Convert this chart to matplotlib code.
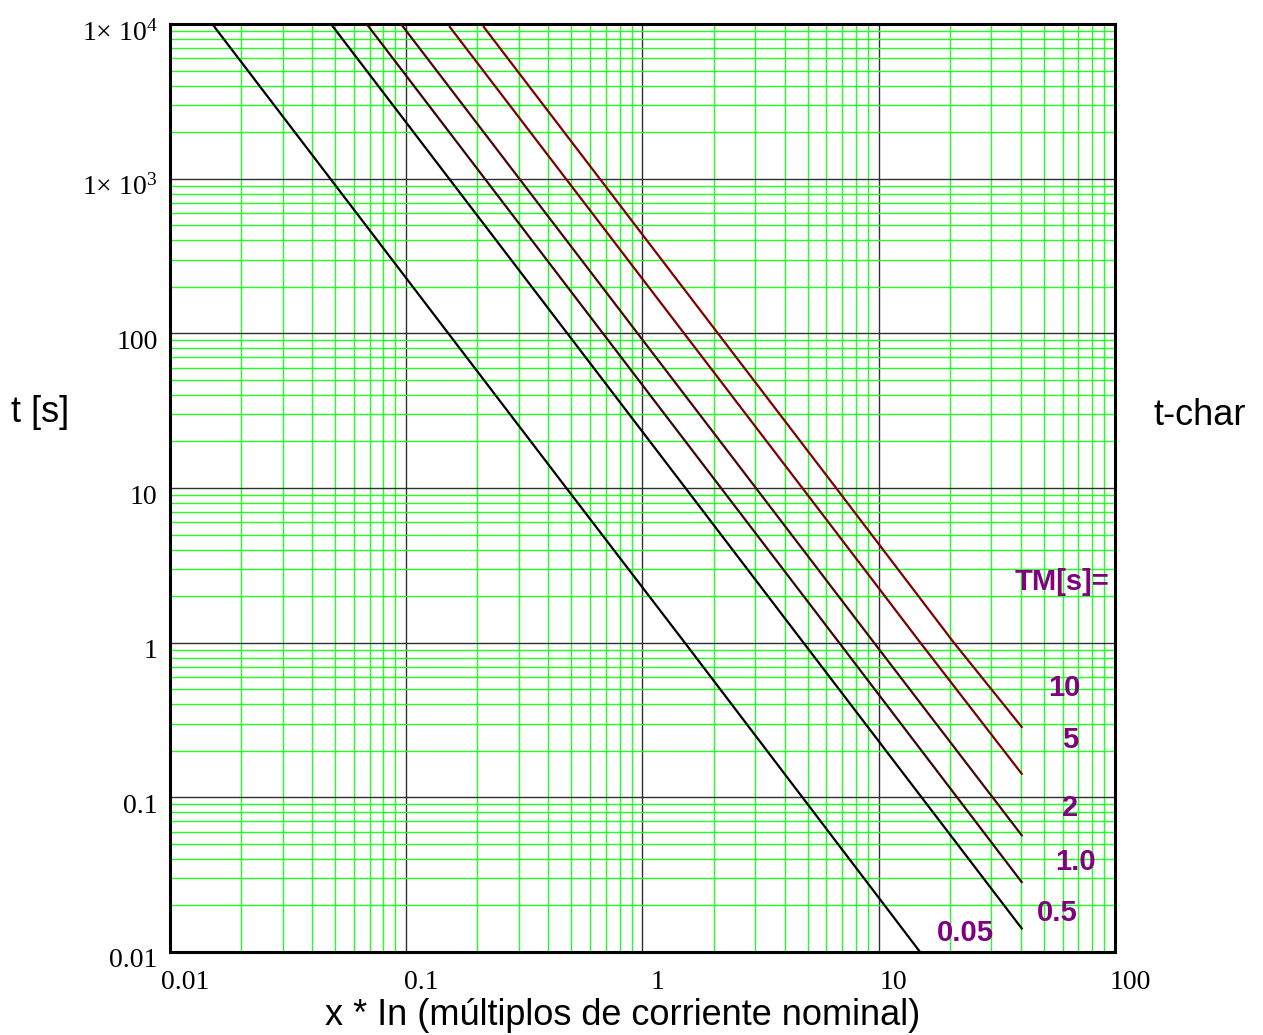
import matplotlib
matplotlib.use("Agg")
import matplotlib.pyplot as plt
import matplotlib.transforms as mtransforms
from matplotlib.ticker import LogLocator, FixedLocator, FixedFormatter, NullFormatter

plt.rcParams["font.family"] = "Liberation Sans"
plt.rcParams["mathtext.fontset"] = "custom"
plt.rcParams["mathtext.rm"] = "Liberation Serif"

# Curves (x = multiples of nominal current, t in s)
tm_labels = ["0.05", "0.5", "1.0", "2", "5", "10"]
x_tm005 = [0.0151, 0.476, 1.51, 14.96]
t_tm005 = [10000, 10.0, 1.0, 0.01]
x_tm05 = [0.048, 1.52, 4.8, 40.3]
t_tm05 = [10000, 10.0, 1.0, 0.0142]
x_tm1 = [0.068, 2.15, 6.8, 40.3]
t_tm1 = [10000, 10.0, 1.0, 0.0283]
x_tm2 = [0.095, 3.02, 9.55, 40.3]
t_tm2 = [10000, 10.0, 1.0, 0.0568]
x_tm5 = [0.153, 4.75, 15.0, 40.3]
t_tm5 = [9560, 10.0, 1.0, 0.142]
x_tm10 = [0.213, 6.6, 20.8, 40.3]
t_tm10 = [9560, 10.0, 1.0, 0.285]

curve_colors = ["#000000", "#000000", "#3a0505", "#4a0505", "#7d0000", "#800000"]

x_ticks = [0.01, 0.1, 1, 10, 100]
x_ticklabels = ["0.01", "0.1", "1", "10", "100"]
y_ticks = [0.01, 0.1, 1, 10, 100, 1000, 10000]
y_ticklabels = ["0.01", "0.1", "1", "10", "100",
                "1\u00d7 $\\mathregular{10^{3}}$", "1\u00d7 $\\mathregular{10^{4}}$"]

fig = plt.figure(figsize=(12.63, 10.35), dpi=100)
ax = fig.add_axes([0.1346, 0.0802, 0.7482, 0.8966])
ax.set_xscale("log")
ax.set_yscale("log")
ax.set_xlim(0.01, 100)
ax.set_ylim(0.01, 10000)

curves = [(x_tm005, t_tm005), (x_tm05, t_tm05), (x_tm1, t_tm1),
          (x_tm2, t_tm2), (x_tm5, t_tm5), (x_tm10, t_tm10)]
for (xs, ts), c in zip(curves, curve_colors):
    ax.plot(xs, ts, color=c, lw=1.6, zorder=3)

# grid
for axis in (ax.xaxis, ax.yaxis):
    axis.set_major_locator(FixedLocator(x_ticks if axis is ax.xaxis else y_ticks))
    axis.set_minor_locator(LogLocator(base=10, subs=range(2, 10), numticks=20))
    axis.set_minor_formatter(NullFormatter())
ax.xaxis.set_major_formatter(FixedFormatter(x_ticklabels))
ax.yaxis.set_major_formatter(FixedFormatter(y_ticklabels))
ax.grid(which="minor", color="#22ff22", lw=1.0)
ax.grid(which="major", color="#303030", lw=1.0)
ax.set_axisbelow(True)
ax.tick_params(which="both", length=0)
ax.tick_params(axis="x", pad=13)
ax.tick_params(axis="y", pad=9)
for lab in ax.get_xticklabels() + ax.get_yticklabels():
    lab.set_fontfamily("Liberation Serif")
    lab.set_fontsize(20)

dx = mtransforms.ScaledTranslation(15 / 100, 0, fig.dpi_scale_trans)
dy = mtransforms.ScaledTranslation(0, -6 / 100, fig.dpi_scale_trans)
for lab in ax.get_xticklabels():
    lab.set_transform(lab.get_transform() + dx)
for lab in ax.get_yticklabels():
    lab.set_transform(lab.get_transform() + dy)

for s in ax.spines.values():
    s.set_linewidth(2.2)
    s.set_color("black")

# labels
fig.text(0.0317, 0.601, "t [s]", fontsize=26, ha="center", va="center")
fig.text(0.950, 0.599, "t-char", fontsize=26, ha="center", va="center")
fig.text(0.493, 0.0193, "x * In (m\u00faltiplos de corriente nominal)",
         fontsize=26, ha="center", va="center")

tm_pos = [(0.842, 0.0205), (0.939, 0.042), (0.958, 0.097),
          (0.953, 0.155), (0.953, 0.2284), (0.946, 0.2845)]
purple = "#800080"
ax.text(0.944, 0.399, "TM[s]=", transform=ax.transAxes, color=purple,
        fontsize=21, fontweight="bold", ha="center", va="center")
for lbl, (px, py) in zip(tm_labels, tm_pos):
    ax.text(px, py, lbl, transform=ax.transAxes, color=purple,
            fontsize=21, fontweight="bold", ha="center", va="center")

fig.savefig("out.png", dpi=100)
